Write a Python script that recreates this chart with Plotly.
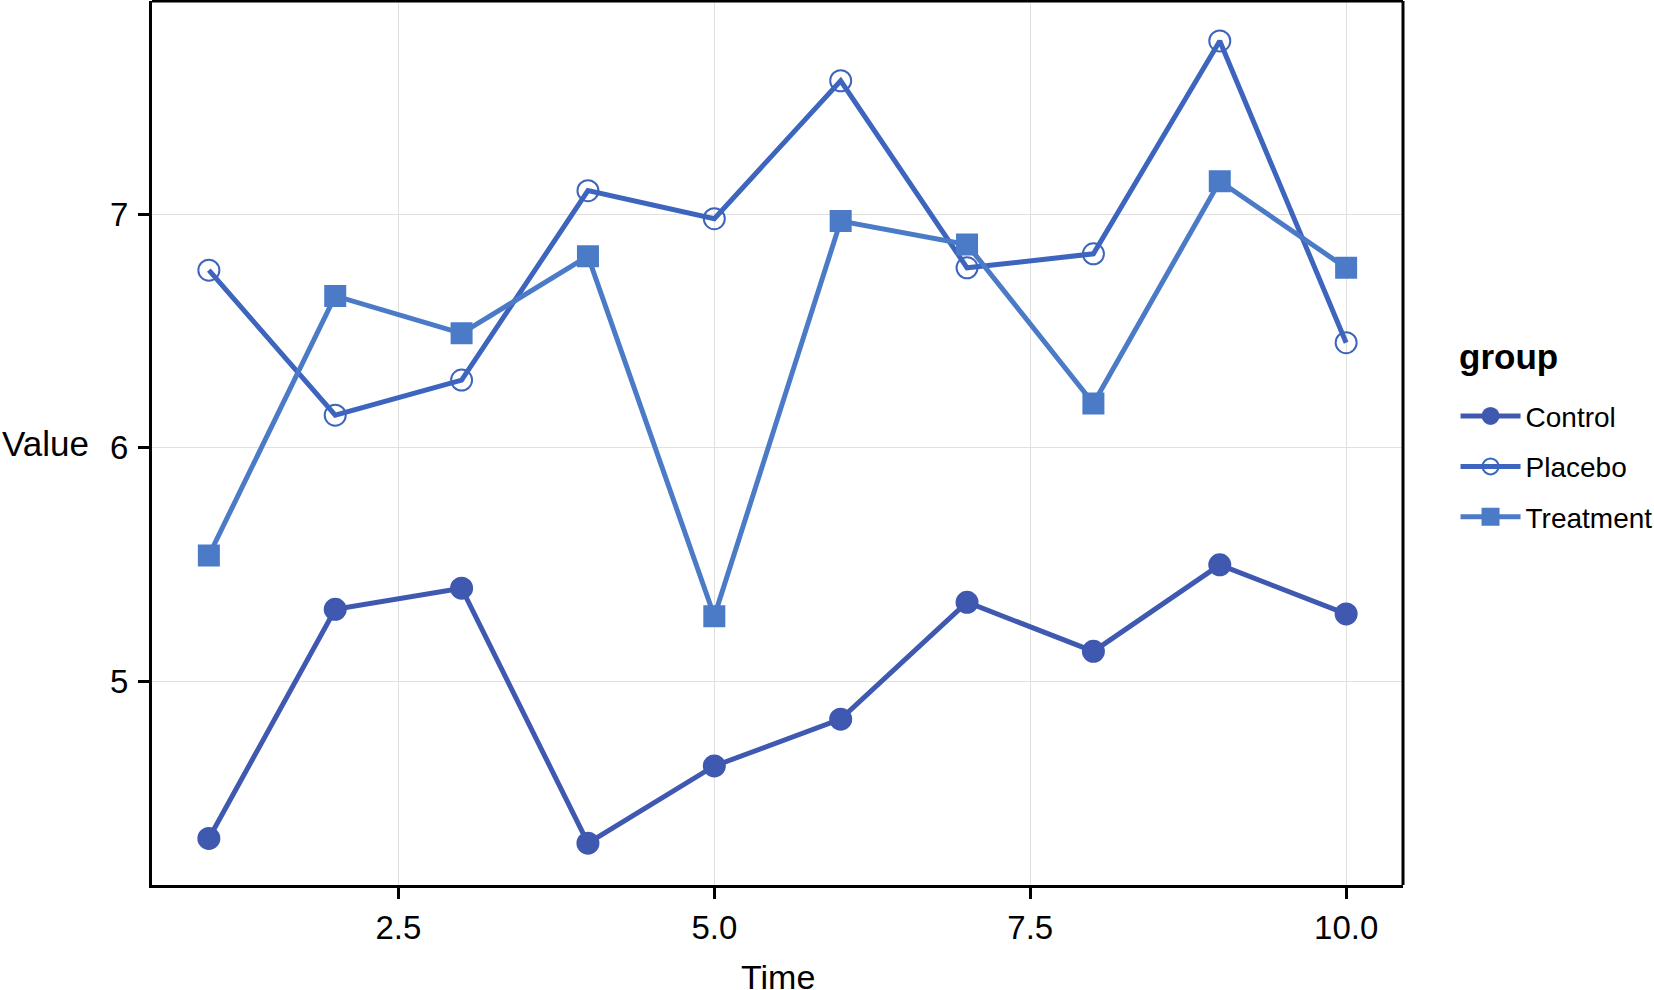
import plotly.graph_objects as go

time = [1, 2, 3, 4, 5, 6, 7, 8, 9, 10]
control = [4.33, 5.31, 5.40, 4.31, 4.64, 4.84, 5.34, 5.13, 5.50, 5.29]
placebo = [6.76, 6.14, 6.29, 7.10, 6.98, 7.57, 6.77, 6.83, 7.74, 6.45]
treatment = [5.54, 6.65, 6.49, 6.82, 5.28, 6.97, 6.87, 6.19, 7.14, 6.77]

x_ticks = [2.5, 5.0, 7.5, 10.0]
x_labels = ["2.5", "5.0", "7.5", "10.0"]
y_ticks = [5, 6, 7]

series = [
    ("Control", control, "#3f58b0", "circle", 21),
    ("Placebo", placebo, "#3e65bd", "circle-open", 21),
    ("Treatment", treatment, "#4b7bc7", "square", 20),
]

fig = go.Figure()
for name, vals, col, sym, size in series:
    fig.add_trace(go.Scatter(
        x=time, y=vals, name=name, mode="lines+markers",
        legendgroup=name,
        line=dict(color=col, width=5),
        marker=dict(symbol=sym, size=size, color=col,
                    line=dict(color=col, width=2)),
    ))

FONT = "Liberation Sans, Arial"
tick_font = dict(family=FONT, size=33, color="black")

common_axis = dict(
    showgrid=True, gridcolor="#e0e0e0", gridwidth=1, zeroline=False,
    showline=True, linecolor="black", linewidth=3,
    ticks="outside", ticklen=11, tickwidth=3, tickcolor="black",
    tickfont=tick_font,
)

fig.update_layout(
    width=1654, height=990,
    paper_bgcolor="white", plot_bgcolor="white",
    margin=dict(l=152, r=251, t=1, b=105, autoexpand=False),
    font=dict(family=FONT, size=30, color="black"),
    xaxis=dict(range=[0.55, 10.45], tickvals=x_ticks, ticktext=x_labels,
               **common_axis),
    yaxis=dict(range=[4.131, 7.911], tickvals=y_ticks, ticklabelstandoff=3,
               **common_axis),
    legend=dict(
        x=1.042, xanchor="left", y=0.5585, yanchor="top",
        font=dict(size=28), tracegroupgap=11, itemwidth=60,
        traceorder="grouped",
    ),
    annotations=[
        # axis titles drawn as annotations (horizontal y title, as in ggplot)
        dict(text="Value", xref="paper", yref="paper", x=-0.1215, y=0.5,
             xanchor="left", yanchor="middle", showarrow=False,
             font=dict(size=35, color="black")),
        dict(text="Time", xref="paper", yref="paper", x=0.5, y=0,
             xanchor="center", yanchor="middle", yshift=-92, showarrow=False,
             font=dict(size=34, color="black")),
        dict(text="<b>group</b>", xref="paper", yref="paper", x=1.0435, y=0.5975,
             xanchor="left", yanchor="middle", showarrow=False,
             font=dict(size=35, color="black")),
    ],
)

# top and right border of the panel
fig.add_shape(type="line", xref="paper", yref="paper", x0=1, x1=1, y0=0, y1=1,
              line=dict(color="black", width=3))
fig.add_shape(type="line", xref="paper", yref="paper", x0=0, x1=1, y0=1, y1=1,
              line=dict(color="black", width=3))

fig.write_html("out.html", config={"displayModeBar": False},
               post_script="document.body.style.margin='0';")
